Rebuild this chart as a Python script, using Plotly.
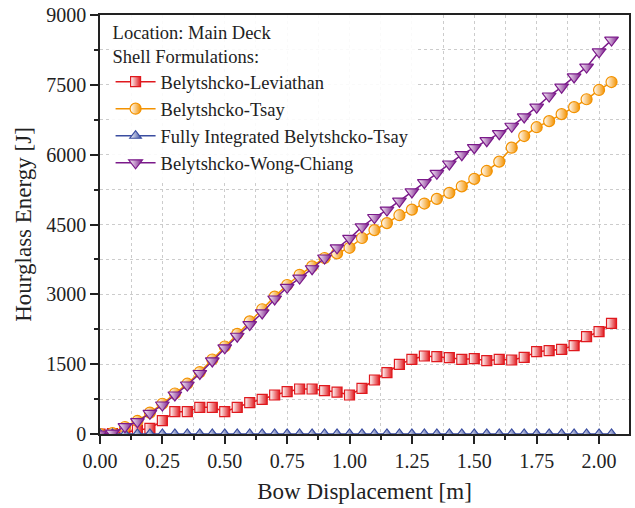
import plotly.graph_objects as go

x_disp = [round(i * 0.05, 2) for i in range(42)]

leviathan = [0, 10, 40, 86, 122, 286, 480, 480, 573, 573, 480, 573, 672, 745, 838, 909,
             967, 967, 930, 900, 838, 981, 1160, 1317, 1497, 1604, 1675, 1660, 1639, 1604,
             1617, 1575, 1604, 1590, 1647, 1768, 1790, 1819, 1897, 2090, 2197, 2378]
tsay = [0, 20, 150, 280, 460, 650, 870, 1080, 1330, 1600, 1880, 2150, 2420, 2680, 2950, 3200,
        3420, 3600, 3780, 3880, 4000, 4210, 4380, 4530, 4700, 4820, 4950, 5050, 5180, 5320,
        5480, 5650, 5850, 6150, 6400, 6590, 6720, 6870, 7020, 7190, 7390, 7560]
fully_integrated = [0] * 42
wong_chiang = [0, 20, 157, 265, 444, 623, 838, 1052, 1300, 1570, 1850, 2100, 2350, 2600, 2900,
               3150, 3350, 3550, 3780, 4000, 4200, 4450, 4650, 4810, 5000, 5200, 5400, 5600,
               5800, 6000, 6150, 6300, 6450, 6610, 6810, 7020, 7260, 7450, 7670, 7880, 8210, 8460]

series = [
    ("Belytshcko-Leviathan", leviathan, "#E0191E", "square", 10),
    ("Belytshcko-Tsay", tsay, "#F39200", "circle", 11),
    ("Fully Integrated Belytshcko-Tsay", fully_integrated, "#3A4DA0", "triangle-up", 10),
    ("Belytshcko-Wong-Chiang", wong_chiang, "#7B1A8A", "triangle-down", 12),
]

fig = go.Figure()
for name, vals, col, sym, sz in series:
    fig.add_trace(go.Scatter(
        x=x_disp, y=vals, name=name, mode="lines+markers",
        line=dict(color=col, width=1.5),
        marker=dict(symbol=sym, size=sz, color="white",
                    gradient=dict(type="horizontal", color=col),
                    line=dict(color=col, width=1.2)),
    ))

font_family = "Times New Roman, Liberation Serif, serif"
fig.update_layout(
    width=635, height=508,
    margin=dict(l=100, r=4, t=15, b=74),
    plot_bgcolor="white", paper_bgcolor="white",
    font=dict(family=font_family, size=18.5, color="#222222"),
    showlegend=True,
    legend=dict(
        x=0.02, y=1.0, xanchor="left", yanchor="top",
        bgcolor="rgba(255,255,255,0.9)", borderwidth=0,
        font=dict(size=18.5, family=font_family, color="#222222"),
        title=dict(text="Location: Main Deck<br>Shell Formulations:",
                   font=dict(size=18.5, family=font_family, color="#222222"), side="top"),
        tracegroupgap=0, itemwidth=40,
    ),
    xaxis=dict(
        range=[0, 2.12], tick0=0, dtick=0.25, tickformat=".2f",
        ticks="outside", ticklen=8, tickwidth=1.5, tickcolor="#222",
        showline=True, linecolor="#222", linewidth=1.5, mirror=True,
        showgrid=True, gridcolor="#CCCCCC", griddash="dot", gridwidth=1,
        zeroline=False,
        minor=dict(dtick=0.125, ticks="outside", ticklen=4, tickwidth=1.5, tickcolor="#222",
                   showgrid=True, gridcolor="#CCCCCC", griddash="dot", gridwidth=1),
        title=dict(text="Bow Displacement [m]", font=dict(size=23, family=font_family), standoff=12),
        tickfont=dict(size=20, family=font_family),
    ),
    yaxis=dict(
        range=[0, 9000], tick0=0, dtick=1500,
        ticks="outside", ticklen=8, tickwidth=1.5, tickcolor="#222",
        showline=True, linecolor="#222", linewidth=1.5, mirror=True,
        showgrid=True, gridcolor="#CCCCCC", griddash="dot", gridwidth=1,
        zeroline=False,
        minor=dict(dtick=750, ticks="outside", ticklen=4, tickwidth=1.5, tickcolor="#222",
                   showgrid=True, gridcolor="#CCCCCC", griddash="dot", gridwidth=1),
        title=dict(text="Hourglass Energy [J]", font=dict(size=23, family=font_family), standoff=8),
        tickfont=dict(size=20, family=font_family),
    ),
)

fig.write_html("out.html")
